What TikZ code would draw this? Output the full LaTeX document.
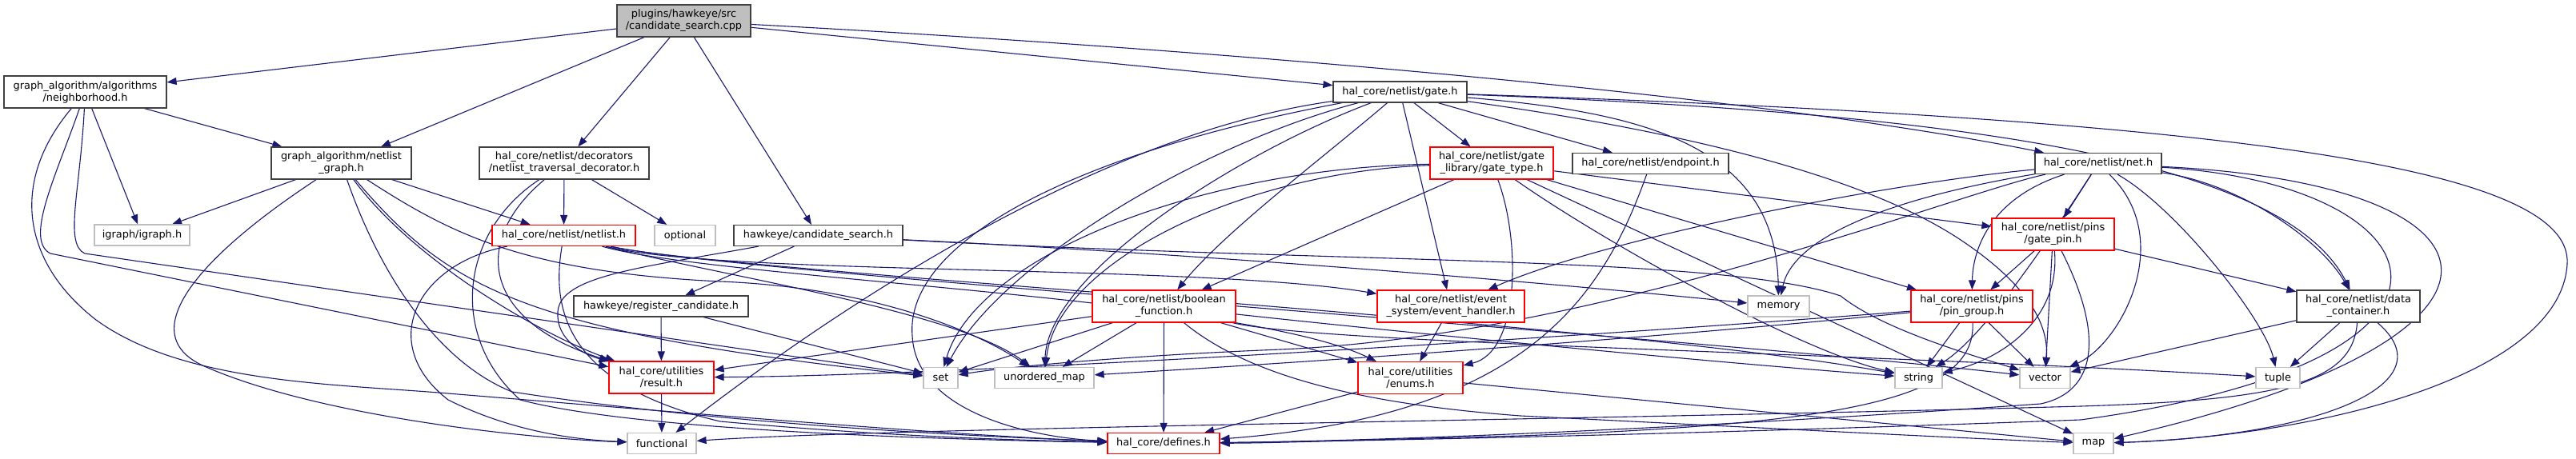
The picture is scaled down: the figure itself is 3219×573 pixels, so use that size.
\documentclass[tikz,border=0pt]{standalone}
\usepackage{fontspec}
\setmainfont{DejaVu Sans}
\usetikzlibrary{arrows.meta}
\pgfdeclarelayer{bg}
\pgfsetlayers{bg,main}
\definecolor{edgec}{RGB}{25,25,112}
\definecolor{nborder}{RGB}{64,64,64}
\definecolor{leafb}{RGB}{191,191,191}
\definecolor{rootf}{RGB}{191,191,191}
\definecolor{trunc}{RGB}{255,0,0}
\begin{document}
\begin{tikzpicture}[x=1pt,y=-1pt,
  font=\fontsize{12.9pt}{15pt}\selectfont,
  base/.style={rectangle,fill=white,align=center,inner sep=0pt,line width=1.2pt,text=black},
  doc/.style={base,draw=nborder},
  trnode/.style={base,draw=trunc},
  leaf/.style={base,draw=leafb},
  rootn/.style={base,draw=nborder,fill=rootf},
  edg/.style={draw=edgec,line width=1.1pt,-{Triangle[length=12pt,width=9pt]}}]
\useasboundingbox (0,0) rectangle (3219,573);
% nodes
\node[rootn,minimum width=167pt,minimum height=40pt] (R) at (854.5,26) {plugins/hawkeye/src\\/candidate\_search.cpp};
\node[doc,minimum width=203pt,minimum height=40pt] (NB) at (106.5,115) {graph\_algorithm/algorithms\\/neighborhood.h};
\node[doc,minimum width=175pt,minimum height=40pt] (NG) at (426.5,204) {graph\_algorithm/netlist\\\_graph.h};
\node[doc,minimum width=212pt,minimum height=40pt] (TD) at (705,204) {hal\_core/netlist/decorators\\/netlist\_traversal\_decorator.h};
\node[leaf,minimum width=119pt,minimum height=26pt] (IG) at (177.5,294) {igraph/igraph.h};
\node[trnode,minimum width=179pt,minimum height=26pt] (NL) at (704.5,294.5) {hal\_core/netlist/netlist.h};
\node[leaf,minimum width=76pt,minimum height=26pt] (OP) at (856,294.5) {optional};
\node[doc,minimum width=211pt,minimum height=26pt] (CS) at (1022.5,294.5) {hawkeye/candidate\_search.h};
\node[doc,minimum width=167pt,minimum height=26pt] (GT) at (1749.5,115) {hal\_core/netlist/gate.h};
\node[doc,minimum width=218pt,minimum height=26pt] (RC) at (826,383) {hawkeye/register\_candidate.h};
\node[trnode,minimum width=131pt,minimum height=40pt] (RES) at (826.5,472) {hal\_core/utilities\\/result.h};
\node[leaf,minimum width=86pt,minimum height=26pt] (FN) at (827,554.5) {functional};
\node[trnode,minimum width=179pt,minimum height=40pt] (BF) at (1454.5,383) {hal\_core/netlist/boolean\\\_function.h};
\node[leaf,minimum width=43pt,minimum height=26pt] (SET) at (1175.5,472.5) {set};
\node[leaf,minimum width=124pt,minimum height=26pt] (UM) at (1305,472.5) {unordered\_map};
\node[trnode,minimum width=140pt,minimum height=26pt] (DEF) at (1454,554.5) {hal\_core/defines.h};
\node[trnode,minimum width=184pt,minimum height=40pt] (EH) at (1813,383) {hal\_core/netlist/event\\\_system/event\_handler.h};
\node[trnode,minimum width=131pt,minimum height=40pt] (EN) at (1762.5,472.5) {hal\_core/utilities\\/enums.h};
\node[trnode,minimum width=154pt,minimum height=40pt] (GTY) at (1864,204) {hal\_core/netlist/gate\\\_library/gate\_type.h};
\node[doc,minimum width=195pt,minimum height=26pt] (EP) at (2062.5,204.5) {hal\_core/netlist/endpoint.h};
\node[doc,minimum width=158pt,minimum height=26pt] (NT) at (2622,204.5) {hal\_core/netlist/net.h};
\node[trnode,minimum width=153pt,minimum height=40pt] (GP) at (2565.5,293) {hal\_core/netlist/pins\\/gate\_pin.h};
\node[leaf,minimum width=77pt,minimum height=26pt] (MEM) at (2222.5,383) {memory};
\node[trnode,minimum width=152pt,minimum height=40pt] (PG) at (2464,383) {hal\_core/netlist/pins\\/pin\_group.h};
\node[leaf,minimum width=59pt,minimum height=26pt] (STR) at (2397.5,472.5) {string};
\node[leaf,minimum width=63pt,minimum height=26pt] (VEC) at (2555.5,472.5) {vector};
\node[leaf,minimum width=55pt,minimum height=26pt] (TUP) at (2846.5,472.5) {tuple};
\node[leaf,minimum width=50pt,minimum height=26pt] (MAP) at (2616,554.5) {map};
\node[doc,minimum width=154pt,minimum height=40pt] (DC) at (2947,383) {hal\_core/netlist/data\\\_container.h};
\begin{pgfonlayer}{bg}
\fill[white] (0,0) rectangle (3219,573);
% root
\draw[edg] (R) -- (NB);
\draw[edg] (R) -- (NG);
\draw[edg] (R) -- (TD);
\draw[edg] (R) -- (CS);
\draw[edg] (R) -- (GT);
\draw[edg] (R) .. controls (1400,55) and (2150,110) .. (NT);
% neighborhood
\draw[edg] (NB) -- (NG);
\draw[edg] (NB) -- (IG);
\draw[edg] (NB) .. controls (10,230) and (30,330) .. (120,400) .. controls (230,480) and (420,480) .. (560,492) .. controls (900,520) and (1200,545) .. (DEF);
\draw[edg] (NB) .. controls (70,220) and (30,300) .. (63,317) -- (RES);
\draw[edg] (NB) .. controls (100,240) and (80,305) .. (106,317) -- (SET);
% netlist_graph
\draw[edg] (NG) -- (IG);
\draw[edg] (NG) .. controls (250,320) and (160,420) .. (260,460) .. controls (400,520) and (650,548) .. (FN);
\draw[edg] (NG) .. controls (470,330) and (540,450) .. (640,490) .. controls (900,530) and (1200,545) .. (DEF);
\draw[edg] (NG) .. controls (520,330) and (680,420) .. (RES);
\draw[edg] (NG) .. controls (560,360) and (650,415) .. (SET);
\draw[edg] (NG) .. controls (560,290) and (650,340) .. (900,352) .. controls (1100,360) and (1230,420) .. (UM);
\draw[edg] (NG) -- (NL);
% traversal decorator
\draw[edg] (TD) .. controls (575,290) and (560,420) .. (650,500) .. controls (800,540) and (1200,550) .. (DEF);
\draw[edg] (TD) .. controls (590,300) and (600,400) .. (RES);
\draw[edg] (TD) -- (NL);
\draw[edg] (TD) -- (OP);
% candidate_search.h
\draw[edg] (CS) -- (RC);
\draw[edg] (CS) .. controls (800,335) and (700,345) .. (697,390) .. controls (695,420) and (720,440) .. (RES);
\draw[edg] (CS) .. controls (1500,318) and (1900,350) .. (MEM);
\draw[edg] (CS) .. controls (1700,330) and (2150,320) .. (2300,370) .. controls (2350,410) and (2450,440) .. (VEC);
% register_candidate
\draw[edg] (RC) -- (RES);
\draw[edg] (RC) -- (SET);
% result
\draw[edg] (RES) -- (FN);
% netlist.h
\draw[edg] (NL) .. controls (520,330) and (470,430) .. (560,500) .. controls (640,540) and (720,550) .. (FN);
\draw[edg] (NL) .. controls (690,380) and (700,480) .. (900,527) .. controls (1100,545) and (1250,550) .. (DEF);
\draw[edg] (NL) .. controls (900,345) and (1500,330) .. (EH);
\draw[edg] (NL) .. controls (900,350) and (1550,370) .. (EN);
\draw[edg] (NL) .. controls (900,345) and (1200,390) .. (UM);
\draw[edg] (NL) .. controls (900,340) and (2000,400) .. (STR);
\draw[edg] (NL) .. controls (900,340) and (2100,420) .. (VEC);
% gate.h
\draw[edg] (GT) .. controls (1350,170) and (1000,420) .. (FN);
\draw[edg] (GT) .. controls (1350,190) and (1130,300) .. (1140,420) .. controls (1145,520) and (1300,548) .. (DEF);
\draw[edg] (GT) .. controls (1500,180) and (1250,330) .. (SET);
\draw[edg] (GT) .. controls (1550,190) and (1310,340) .. (UM);
\draw[edg] (GT) .. controls (1650,200) and (1530,290) .. (BF);
\draw[edg] (GT) -- (EH);
\draw[edg] (GT) -- (GTY);
\draw[edg] (GT) -- (EP);
\draw[edg] (GT) .. controls (2050,140) and (2220,180) .. (MEM);
\draw[edg] (GT) .. controls (2000,150) and (2300,200) .. (2450,300) .. controls (2540,360) and (2560,410) .. (VEC);
\draw[edg] (GT) .. controls (2400,140) and (2850,190) .. (DC);
\draw[edg] (GT) .. controls (2800,150) and (3215,210) .. (3208,330) .. controls (3200,470) and (2900,545) .. (MAP);
% gate_type
\draw[edg] (GTY) .. controls (1500,210) and (1220,320) .. (SET);
\draw[edg] (GTY) .. controls (1550,215) and (1320,330) .. (UM);
\draw[edg] (GTY) -- (BF);
\draw[edg] (GTY) .. controls (1900,300) and (1900,440) .. (EN);
\draw[edg] (GTY) .. controls (2000,300) and (2250,440) .. (STR);
\draw[edg] (GTY) -- (MAP);
\draw[edg] (GTY) -- (PG);
\draw[edg] (GTY) -- (GP);
% endpoint
\draw[edg] (EP) .. controls (2000,380) and (1900,520) .. (DEF);
% net.h
\draw[edg] (NT) .. controls (2350,230) and (2000,300) .. (EH);
\draw[edg] (NT) .. controls (2350,250) and (2240,300) .. (MEM);
\draw[edg] (NT) -- (GP);
\draw[edg] (NT) .. controls (2480,250) and (2465,320) .. (PG);
\draw[edg] (NT) .. controls (2800,230) and (2900,300) .. (DC);
\draw[edg] (NT) .. controls (2720,260) and (2830,400) .. (TUP);
\draw[edg] (NT) .. controls (3150,230) and (3200,420) .. (MAP);
\draw[edg] (NT) .. controls (3050,230) and (3150,450) .. (2600,525) .. controls (2200,540) and (1800,550) .. (DEF);
\draw[edg] (NT) .. controls (2450,240) and (2000,420) .. (1600,437) .. controls (1400,445) and (1250,460) .. (SET);
\draw[edg] (NT) .. controls (2560,300) and (2480,420) .. (STR);
\draw[edg] (NT) .. controls (2720,300) and (2650,430) .. (VEC);
% pin_group
\draw[edg] (PG) -- (STR);
\draw[edg] (PG) -- (VEC);
\draw[edg] (PG) .. controls (2470,500) and (2300,530) .. (1900,545) .. controls (1700,550) and (1600,554) .. (DEF);
\draw[edg] (PG) .. controls (2000,420) and (1200,470) .. (RES);
\draw[edg] (PG) .. controls (2050,425) and (1600,455) .. (UM);
% gate_pin
\draw[edg] (GP) -- (PG);
\draw[edg] (GP) .. controls (2575,400) and (2500,450) .. (STR);
\draw[edg] (GP) -- (VEC);
\draw[edg] (GP) -- (DC);
\draw[edg] (GP) .. controls (2630,420) and (2620,490) .. (2550,505) .. controls (2200,530) and (1800,550) .. (DEF);
% data_container
\draw[edg] (DC) .. controls (2940,480) and (2850,500) .. (2600,508) .. controls (2000,525) and (1100,535) .. (FN);
\draw[edg] (DC) -- (VEC);
\draw[edg] (DC) -- (TUP);
\draw[edg] (DC) .. controls (3060,480) and (2900,545) .. (MAP);
% enums / event handler
\draw[edg] (EN) -- (DEF);
\draw[edg] (EN) -- (MAP);
\draw[edg] (EH) -- (EN);
% boolean_function
\draw[edg] (BF) -- (RES);
\draw[edg] (BF) -- (SET);
\draw[edg] (BF) -- (UM);
\draw[edg] (BF) -- (DEF);
\draw[edg] (BF) .. controls (1560,470) and (1700,505) .. (1900,520) .. controls (2200,535) and (2450,548) .. (MAP);
\draw[edg] (BF) -- (EN);
\draw[edg] (BF) .. controls (1700,410) and (2100,450) .. (STR);
\draw[edg] (BF) .. controls (1650,430) and (2300,440) .. (TUP);
\end{pgfonlayer}
\end{tikzpicture}
\end{document}
